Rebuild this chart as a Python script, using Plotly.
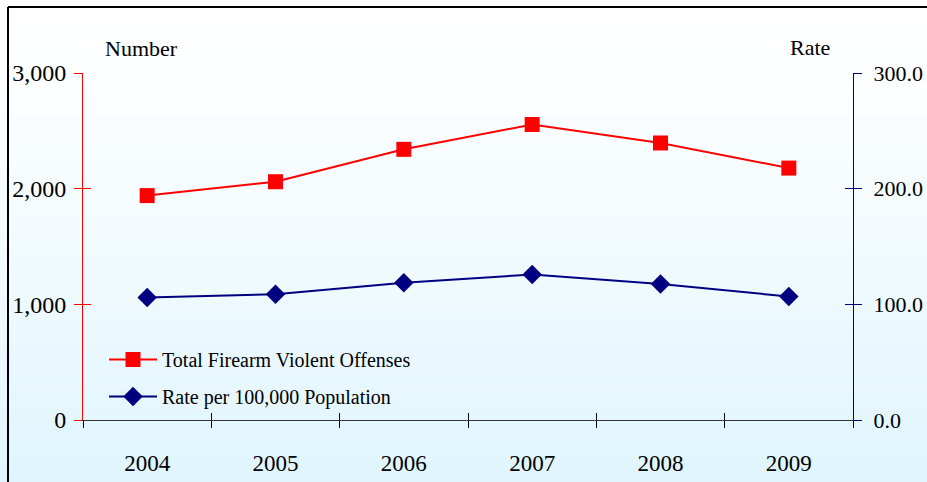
import plotly.graph_objects as go

years = ["2004", "2005", "2006", "2007", "2008", "2009"]
offenses = [1940, 2060, 2340, 2555, 2395, 2178]
rates = [105.8, 108.7, 118.7, 125.8, 117.5, 106.8]
left_ticks = [0, 1000, 2000, 3000]
left_labels = ["0", "1,000", "2,000", "3,000"]
right_ticks = [0, 100, 200, 300]
right_labels = ["0.0", "100.0", "200.0", "300.0"]

W, H = 927, 482
ML, MR, MT, MB = 83, 74, 73, 62
PW, PH = W - ML - MR, H - MT - MB

def px_x(p):
    return (p - ML) / PW

def px_y(p):
    return (H - MB - p) / PH

FONT = "Liberation Serif, Times New Roman, serif"
RED = "#FF0000"
NAVY = "#000080"

fig = go.Figure()
fig.add_trace(go.Scatter(
    x=years, y=offenses, name="Total Firearm Violent Offenses",
    mode="lines+markers", line=dict(color=RED, width=2),
    marker=dict(symbol="square", size=15, color=RED),
    legendgroup="a", xaxis="x", yaxis="y"))
fig.add_trace(go.Scatter(
    x=years, y=rates, name="Rate per 100,000 Population",
    mode="lines+markers", line=dict(color=NAVY, width=2),
    marker=dict(symbol="diamond", size=15, color=NAVY),
    legendgroup="b", xaxis="x", yaxis="y2"))
# invisible helpers for crossing tick marks
fig.add_trace(go.Scatter(x=years, y=offenses, mode="markers", marker=dict(opacity=0),
                         showlegend=False, hoverinfo="skip", xaxis="x2", yaxis="y3"))
fig.add_trace(go.Scatter(x=years, y=rates, mode="markers", marker=dict(opacity=0),
                         showlegend=False, hoverinfo="skip", xaxis="x2", yaxis="y4"))

# gradient background bands
shapes = []
N = 80
top = (255, 255, 255)
bot = (223, 245, 253)
for i in range(N):
    t = i / (N - 1)
    f = t ** 1.3
    c = tuple(round(top[k] + (bot[k] - top[k]) * f) for k in range(3))
    y0p = H * i / N
    y1p = H * (i + 1) / N + 1
    shapes.append(dict(type="rect", xref="paper", yref="paper", layer="below",
                       x0=px_x(-2), x1=px_x(W + 2), y0=px_y(y1p), y1=px_y(y0p),
                       fillcolor="rgb(%d,%d,%d)" % c, line=dict(width=0)))
# white strip above border at top
shapes.append(dict(type="rect", xref="paper", yref="paper", layer="below",
                   x0=px_x(-2), x1=px_x(W + 2), y0=px_y(7), y1=px_y(-2),
                   fillcolor="white", line=dict(width=0)))
# chart border (top and left visible)
shapes.append(dict(type="line", xref="paper", yref="paper", x0=px_x(8), x1=px_x(W + 5),
                   y0=px_y(7), y1=px_y(7), line=dict(color="black", width=2)))
shapes.append(dict(type="line", xref="paper", yref="paper", x0=px_x(8), x1=px_x(8),
                   y0=px_y(7), y1=px_y(H + 5), line=dict(color="black", width=2)))

tickfont = dict(family=FONT, size=23, color="black")

fig.update_layout(
    width=W, height=H,
    margin=dict(l=ML, r=MR, t=MT, b=MB, autoexpand=False),
    paper_bgcolor="white", plot_bgcolor="rgba(0,0,0,0)",
    shapes=shapes,
    showlegend=True,
    legend=dict(x=px_x(104), y=px_y(340), xanchor="left", yanchor="top",
                bgcolor="rgba(0,0,0,0)", font=dict(family=FONT, size=20, color="black"),
                traceorder="grouped", tracegroupgap=8, itemwidth=48),
    xaxis=dict(type="category", categoryorder="array", categoryarray=years,
               range=[-0.5, 5.5], tickson="boundaries", ticks="outside", ticklen=7,
               tickcolor="black", showline=True, linecolor="#333333", linewidth=1,
               showgrid=False, zeroline=False, tickfont=tickfont, ticklabelstandoff=22,
               automargin=False),
    xaxis2=dict(type="category", categoryorder="array", categoryarray=years,
                range=[-0.5, 5.5], tickson="boundaries", ticks="inside", ticklen=7,
                tickcolor="black", showline=False, showgrid=False, zeroline=False,
                showticklabels=False, overlaying="x", anchor="y3", automargin=False),
    yaxis=dict(range=[0, 3000], tickvals=left_ticks, ticktext=left_labels,
               ticks="outside", ticklen=8, tickcolor=RED, showline=True, linecolor=RED,
               linewidth=1, showgrid=False, zeroline=False,
               tickfont=dict(family=FONT, size=24, color="black"),
               ticklabelstandoff=3, automargin=False),
    yaxis2=dict(range=[0, 300], tickvals=right_ticks, ticktext=right_labels,
                overlaying="y", side="right", ticks="outside", ticklen=8, tickcolor=NAVY,
                showline=True, linecolor=NAVY, linewidth=1, showgrid=False, zeroline=False,
                tickfont=dict(family=FONT, size=22, color="black"),
                ticklabelstandoff=7, automargin=False),
    yaxis3=dict(range=[0, 3000], tickvals=left_ticks, overlaying="y", side="left",
                ticks="inside", ticklen=8, tickcolor=RED, showline=False, showgrid=False,
                zeroline=False, showticklabels=False, automargin=False),
    yaxis4=dict(range=[0, 300], tickvals=right_ticks, overlaying="y", side="right",
                ticks="inside", ticklen=8, tickcolor=NAVY, showline=False, showgrid=False,
                zeroline=False, showticklabels=False, automargin=False),
    annotations=[
        dict(text="Number", xref="paper", yref="paper", x=px_x(141), y=px_y(49),
             xanchor="center", yanchor="middle", showarrow=False,
             font=dict(family=FONT, size=22, color="black")),
        dict(text="Rate", xref="paper", yref="paper", x=px_x(810), y=px_y(47),
             xanchor="center", yanchor="middle", showarrow=False,
             font=dict(family=FONT, size=22, color="black")),
    ],
)

fig.write_html("out.html", config={"displayModeBar": False},
               post_script="document.body.style.margin='0px';document.body.style.overflow='hidden';")
